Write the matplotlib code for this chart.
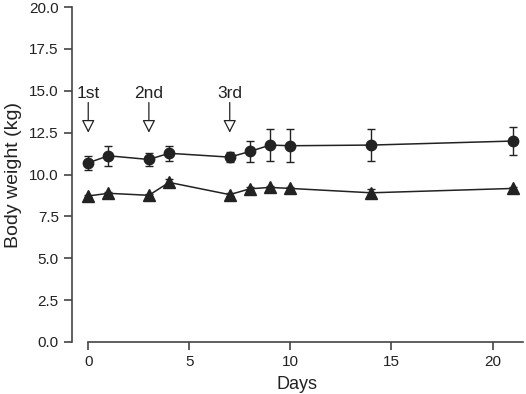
import matplotlib
matplotlib.use("Agg")
import matplotlib.pyplot as plt

plt.rcParams["font.family"] = ["Liberation Sans", "DejaVu Sans"]

# Data
days = [0, 1, 3, 4, 7, 8, 9, 10, 14, 21]
circle_mean = [10.70, 11.12, 10.90, 11.27, 11.04, 11.38, 11.76, 11.72, 11.76, 12.00]
circle_err = [0.40, 0.60, 0.40, 0.45, 0.30, 0.65, 0.95, 1.00, 0.93, 0.85]
tri_mean = [8.72, 8.88, 8.76, 9.53, 8.80, 9.15, 9.23, 9.17, 8.91, 9.17]
tri_err = [0.05, 0.05, 0.05, 0.22, 0.08, 0.08, 0.08, 0.08, 0.20, 0.08]
doses = ["1st", "2nd", "3rd"]
dose_days = [0, 3, 7]

ink = "#222222"

fig = plt.figure(figsize=(5.26, 3.94), dpi=100)
ax = fig.add_axes([0.137, 0.132, 0.857, 0.85])

ax.errorbar(days, circle_mean, yerr=circle_err, color=ink, marker="o",
            markersize=7.5, linewidth=1.1, elinewidth=1.0, capsize=3,
            capthick=1.0)
ax.errorbar(days, tri_mean, yerr=tri_err, color=ink, marker="^",
            markersize=8, linewidth=1.1, elinewidth=1.0, capsize=3,
            capthick=1.0)

# Injection arrows
for label, d in zip(doses, dose_days):
    ax.text(d, 14.85, label, ha="center", va="center", fontsize=12.5, color=ink)
    ax.annotate("", xy=(d, 12.5), xytext=(d, 14.3),
                arrowprops=dict(arrowstyle="-|>,head_length=0.55,head_width=0.28",
                                facecolor="white", edgecolor=ink, lw=0.9,
                                mutation_scale=14, shrinkA=0, shrinkB=0))

ax.set_xlim(-0.8, 21.5)
ax.set_ylim(0, 20)
ax.set_xticks([0, 5, 10, 15, 20])
ax.set_yticks([0, 2.5, 5, 7.5, 10, 12.5, 15, 17.5, 20])
ax.set_yticklabels([f"{v:.1f}" for v in ax.get_yticks()])

ax.spines["top"].set_visible(False)
ax.spines["right"].set_visible(False)
ax.spines["bottom"].set_bounds(0, 21.5)
for s in ("left", "bottom"):
    ax.spines[s].set_color("#444444")
    ax.spines[s].set_linewidth(1.2)
ax.tick_params(direction="out", length=6, width=1.2, color="#444444",
               labelsize=11, labelcolor=ink)

ax.set_xlabel("Days", fontsize=13, color=ink, labelpad=5)
ax.set_ylabel("Body weight (kg)", fontsize=14, color=ink, labelpad=5)

fig.savefig("out.png", dpi=100)
